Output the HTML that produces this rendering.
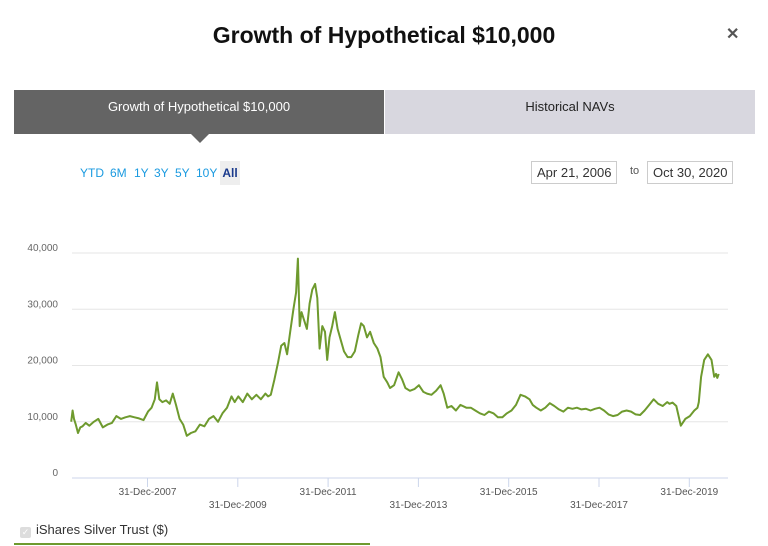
<!DOCTYPE html>
<html><head><meta charset="utf-8">
<style>
body{margin:0;width:768px;height:546px;background:#fff;font-family:"Liberation Sans",sans-serif;position:relative;overflow:hidden}
.abs{position:absolute}
#title{left:0;width:768px;top:22px;text-align:center;font-weight:bold;font-size:23px;color:#111}
#close{left:726px;top:24px;font-size:16px;color:#555;font-weight:bold}
.tab{top:90px;height:44px;line-height:34px;text-align:center;font-size:13px}
#tab1{left:14px;width:370px;background:#646464;color:#fff}
#tab2{left:385px;width:370px;background:#d8d7df;color:#222}
#caret{left:191px;top:134px;width:0;height:0;border-left:9px solid transparent;border-right:9px solid transparent;border-top:9px solid #646464}
.rb{top:166px;font-size:12px;color:#1a9ae0}
#all{left:220px;top:161px;width:20px;height:24px;background:#eee;color:#1a3a8c;font-weight:bold;line-height:24px;text-align:center;font-size:12px}
.date{top:161px;height:21px;border:1px solid #ccc;font-size:13px;line-height:21px;padding:0 5px;color:#333}
#to{left:630px;top:165px;font-size:11px;color:#555}
svg text{font-family:"Liberation Sans",sans-serif}
#legend{left:20px;top:522px;font-size:13px;color:#333}
#legline{left:14px;top:543px;width:356px;height:2px;background:#6e9a2e}
</style></head><body>
<div id="title" class="abs">Growth of Hypothetical $10,000</div>
<div id="close" class="abs">✕</div>
<div id="tab1" class="abs tab">Growth of Hypothetical $10,000</div>
<div id="tab2" class="abs tab">Historical NAVs</div>
<div id="caret" class="abs"></div>
<div class="abs rb" style="left:80px">YTD</div>
<div class="abs rb" style="left:110px">6M</div>
<div class="abs rb" style="left:134px">1Y</div>
<div class="abs rb" style="left:154px">3Y</div>
<div class="abs rb" style="left:175px">5Y</div>
<div class="abs rb" style="left:196px">10Y</div>
<div id="all" class="abs">All</div>
<div class="abs date" style="left:531px">Apr 21, 2006</div>
<div id="to" class="abs">to</div>
<div class="abs date" style="left:647px">Oct 30, 2020</div>
<svg class="abs" style="left:0;top:0" width="768" height="546" id="chart"></svg>
<div id="legend" class="abs"><span style="display:inline-block;width:11px;height:11px;background:#ddd;border-radius:2px;vertical-align:-1px;margin-right:5px;color:#fff;font-size:9px;line-height:11px;text-align:center">✓</span>iShares Silver Trust ($)</div>
<div id="legline" class="abs"></div>
<script>
const dates=[2006.30,2006.33,2006.36,2006.40,2006.45,2006.50,2006.55,2006.62,2006.70,2006.80,2006.90,2007.00,2007.10,2007.20,2007.30,2007.40,2007.50,2007.60,2007.70,2007.80,2007.90,2008.00,2008.08,2008.15,2008.20,2008.25,2008.32,2008.40,2008.48,2008.55,2008.62,2008.70,2008.78,2008.86,2008.95,2009.05,2009.15,2009.25,2009.35,2009.45,2009.55,2009.65,2009.75,2009.85,2009.92,2010.00,2010.10,2010.20,2010.30,2010.40,2010.50,2010.60,2010.66,2010.72,2010.80,2010.88,2010.95,2011.02,2011.08,2011.15,2011.22,2011.28,2011.32,2011.36,2011.40,2011.46,2011.52,2011.58,2011.64,2011.70,2011.75,2011.80,2011.86,2011.92,2011.97,2012.02,2012.08,2012.14,2012.20,2012.27,2012.34,2012.42,2012.50,2012.58,2012.66,2012.72,2012.78,2012.85,2012.92,2013.00,2013.08,2013.15,2013.22,2013.30,2013.36,2013.45,2013.55,2013.63,2013.70,2013.80,2013.90,2014.00,2014.10,2014.18,2014.28,2014.38,2014.48,2014.55,2014.63,2014.72,2014.82,2014.92,2015.05,2015.15,2015.25,2015.35,2015.45,2015.55,2015.65,2015.75,2015.85,2015.95,2016.05,2016.15,2016.25,2016.35,2016.45,2016.52,2016.60,2016.70,2016.80,2016.90,2017.00,2017.10,2017.20,2017.30,2017.40,2017.50,2017.60,2017.70,2017.80,2017.90,2018.00,2018.10,2018.20,2018.30,2018.40,2018.50,2018.60,2018.70,2018.80,2018.90,2019.00,2019.10,2019.20,2019.30,2019.40,2019.50,2019.55,2019.62,2019.70,2019.80,2019.90,2020.00,2020.10,2020.17,2020.20,2020.25,2020.32,2020.40,2020.48,2020.54,2020.58,2020.61,2020.64,2020.67,2020.70,2020.73,2020.76,2020.80,2020.83];
const values=[10000,12000,10500,9500,8000,9000,9200,9800,9300,10000,10500,9000,9500,9800,11000,10500,10800,11000,10800,10600,10300,11800,12500,14000,17000,14000,13500,13800,13200,15000,13000,10500,9500,7500,8000,8300,9500,9200,10500,11000,10000,11500,12500,14500,13500,14500,13500,15000,14000,14800,14000,15000,14500,14800,17500,20500,23500,24000,22000,26000,30000,33000,39000,27000,29500,28000,26500,31000,33500,34500,32000,23000,27000,26000,21000,25000,27000,29500,26500,24500,22500,21500,21500,22500,25500,27500,27000,25000,26000,24000,23000,21500,18000,17000,16000,16500,18800,17500,16000,15500,15800,16500,15300,15000,14800,15500,16500,15000,12500,12800,12000,13000,12500,12500,12000,11500,11200,11800,11500,10800,10800,11500,12000,13000,14800,14500,14000,13000,12500,12000,12500,13300,12800,12200,11800,12500,12300,12500,12200,12300,12000,12300,12500,12000,11300,11000,11200,11800,12000,11800,11300,11200,12000,13000,14000,13200,12800,13500,13200,13400,12800,9300,10500,11000,12000,12500,13500,18000,21000,22000,21000,18000,18500,17800,18500];
const yTicks=[0,10000,20000,30000,40000];
const yLabels=["0","10,000","20,000","30,000","40,000"];
const xTicks=[2008,2010,2012,2014,2016,2018,2020];
const xLabels=["31-Dec-2007","31-Dec-2009","31-Dec-2011","31-Dec-2013","31-Dec-2015","31-Dec-2017","31-Dec-2019"];
const svg=document.getElementById('chart');const NS='http://www.w3.org/2000/svg';
const X0=72,X1=728;
function xs(d){return 148+(d-2008)*45.15;}
function ys(v){return 478-v*0.005625;}
function mk(t,a){const e=document.createElementNS(NS,t);for(const k in a)e.setAttribute(k,a[k]);svg.appendChild(e);return e;}
yTicks.forEach((v,i)=>{
 if(v>0){const l=mk('line',{x1:X0,x2:X1,y1:ys(v),y2:ys(v),stroke:'#e6e6e6','stroke-width':1});
 
 }
 const t=mk('text',{x:58,y:ys(v)-2,'text-anchor':'end','font-size':10,fill:'#666'});t.textContent=yLabels[i];
 
 
});
const ax=mk('line',{x1:X0,x2:X1,y1:478,y2:478,stroke:'#ccd6eb','stroke-width':1});


xTicks.forEach((d,i)=>{
 const x=xs(d)-0.5;
 const tk=mk('line',{x1:x,x2:x,y1:478,y2:487,stroke:'#ccd6eb'});
 
 
 const t=mk('text',{x:x,y:i%2==0?495:508,'text-anchor':'middle','font-size':10,fill:'#555'});t.textContent=xLabels[i];
 
 
});
let p='';dates.forEach((d,i)=>{p+=(i?'L':'M')+xs(d).toFixed(1)+','+ys(values[i]).toFixed(1);});
const ln=mk('path',{d:p,fill:'none',stroke:'#6e9a2e','stroke-width':2,'stroke-linejoin':'round'});


</script>
</body></html>
